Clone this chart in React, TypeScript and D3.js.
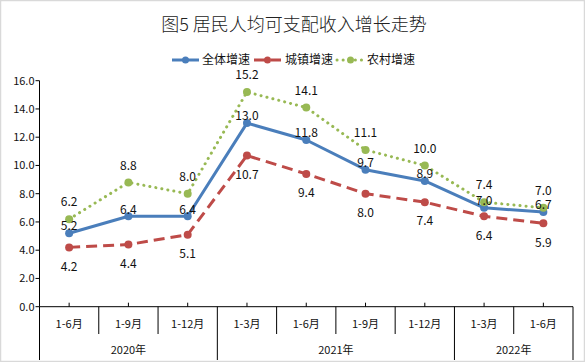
import React from 'react';
import * as d3 from 'd3';

const periods = ['1-6月', '1-9月', '1-12月', '1-3月', '1-6月', '1-9月', '1-12月', '1-3月', '1-6月'];
const years = ['2020年', '2021年', '2022年'];
const yearSpans = [3, 4, 2];
const overall = [5.2, 6.4, 6.4, 13.0, 11.8, 9.7, 8.9, 7.0, 6.7];
const urban = [4.2, 4.4, 5.1, 10.7, 9.4, 8.0, 7.4, 6.4, 5.9];
const rural = [6.2, 8.8, 8.0, 15.2, 14.1, 11.1, 10.0, 7.4, 7.0];
const yTicks = [0, 2, 4, 6, 8, 10, 12, 14, 16];

const W = 585;
const H = 362;
const font = '"Noto Sans CJK SC", "Noto Sans", sans-serif';

const series = [
  { name: '全体增速', values: overall, color: '#4a7ebb', dash: '', labelDy: -7 },
  { name: '城镇增速', values: urban, color: '#be4b48', dash: '11,6', labelDy: 19 },
  { name: '农村增速', values: rural, color: '#98b954', dash: '0.1,6', labelDy: -17 },
];

const App = () => {
  const left = 39.5;
  const right = 573;
  const top = 80.7;
  const bottom = 306.7;

  const x = d3.scaleBand<number>().domain(d3.range(periods.length)).range([left, right]);
  const y = d3.scaleLinear().domain([0, 16]).range([bottom, top]);
  const line = d3
    .line<number>()
    .x((_, i) => x(i)! + x.bandwidth() / 2)
    .y(d => y(d));

  // where the year groups start / end
  const bounds = [0, ...d3.cumsum(yearSpans)];

  const legendItems = [
    { lx: 172, tx: 202 },
    { lx: 254, tx: 285 },
    { lx: 337, tx: 367 },
  ];

  return (
    <svg width={W} height={H} style={{ position: 'absolute', left: 0, top: 0 }} fontFamily={font}>
      <rect x={0.5} y={0.5} width={W - 1} height={H - 1} fill="#fff" stroke="#d9d9d9" strokeWidth={1.5} />
      <text x={294} y={31} textAnchor="middle" fontSize={18} fontWeight={300} fill="#222">
        图5 居民人均可支配收入增长走势
      </text>

      {/* legend */}
      {series.map((s, i) => (
        <g key={s.name}>
          <line
            x1={legendItems[i].lx}
            x2={legendItems[i].lx + 27}
            y1={60}
            y2={60}
            stroke={s.color}
            strokeWidth={3}
            strokeDasharray={s.dash}
            strokeLinecap={i === 2 ? 'round' : 'butt'}
          />
          <circle cx={legendItems[i].lx + 13.5} cy={60} r={3.5} fill={s.color} />
          <text x={legendItems[i].tx} y={60} dy="0.35em" fontSize={12} fill="#111">
            {s.name}
          </text>
        </g>
      ))}

      {/* y axis */}
      <line x1={left} x2={left} y1={top} y2={bottom} stroke="#000" />
      {yTicks.map(t => (
        <g key={t}>
          <line x1={left - 4} x2={left} y1={y(t)} y2={y(t)} stroke="#000" />
          <text x={left - 5} y={y(t)} dy="0.35em" textAnchor="end" fontSize={11} fill="#111">
            {t.toFixed(1)}
          </text>
        </g>
      ))}

      {/* x axis with two-level categories */}
      <line x1={left} x2={right} y1={bottom} y2={bottom} stroke="#000" />
      {periods.map((p, i) => (
        <g key={i}>
          <line
            x1={x(i)! + x.bandwidth() / 2}
            x2={x(i)! + x.bandwidth() / 2}
            y1={bottom}
            y2={bottom - 4}
            stroke="#000"
          />
          <text x={x(i)! + x.bandwidth() / 2} y={324} dy="0.35em" textAnchor="middle" fontSize={11} fill="#111">
            {p}
          </text>
        </g>
      ))}
      {d3.range(periods.length + 1).map(i => {
        const xx = i < periods.length ? x(i)! : right;
        const isYear = bounds.includes(i);
        return <line key={i} x1={xx} x2={xx} y1={bottom} y2={isYear ? 360 : 334} stroke="#000" />;
      })}
      {years.map((yr, i) => {
        const x0 = x(bounds[i])!;
        const x1 = bounds[i + 1] < periods.length ? x(bounds[i + 1])! : right;
        return (
          <text key={yr} x={(x0 + x1) / 2} y={350} dy="0.35em" textAnchor="middle" fontSize={11} fill="#111">
            {yr}
          </text>
        );
      })}

      {/* lines */}
      {series.map((s, si) => (
        <g key={s.name}>
          <path
            d={line(s.values)!}
            fill="none"
            stroke={s.color}
            strokeWidth={3}
            strokeDasharray={s.dash}
            strokeLinecap={si === 2 ? 'round' : 'butt'}
            strokeLinejoin="round"
          />
          {s.values.map((v, i) => (
            <circle key={i} cx={x(i)! + x.bandwidth() / 2} cy={y(v)} r={4} fill={s.color} />
          ))}
        </g>
      ))}

      {/* data labels */}
      {series.map(s => (
        <g key={s.name}>
          {s.values.map((v, i) => (
            <text
              key={i}
              x={x(i)! + x.bandwidth() / 2}
              y={y(v) + s.labelDy}
              dy="0.35em"
              textAnchor="middle"
              fontSize={12}
              fill="#111"
            >
              {v.toFixed(1)}
            </text>
          ))}
        </g>
      ))}
    </svg>
  );
};

export default App;
